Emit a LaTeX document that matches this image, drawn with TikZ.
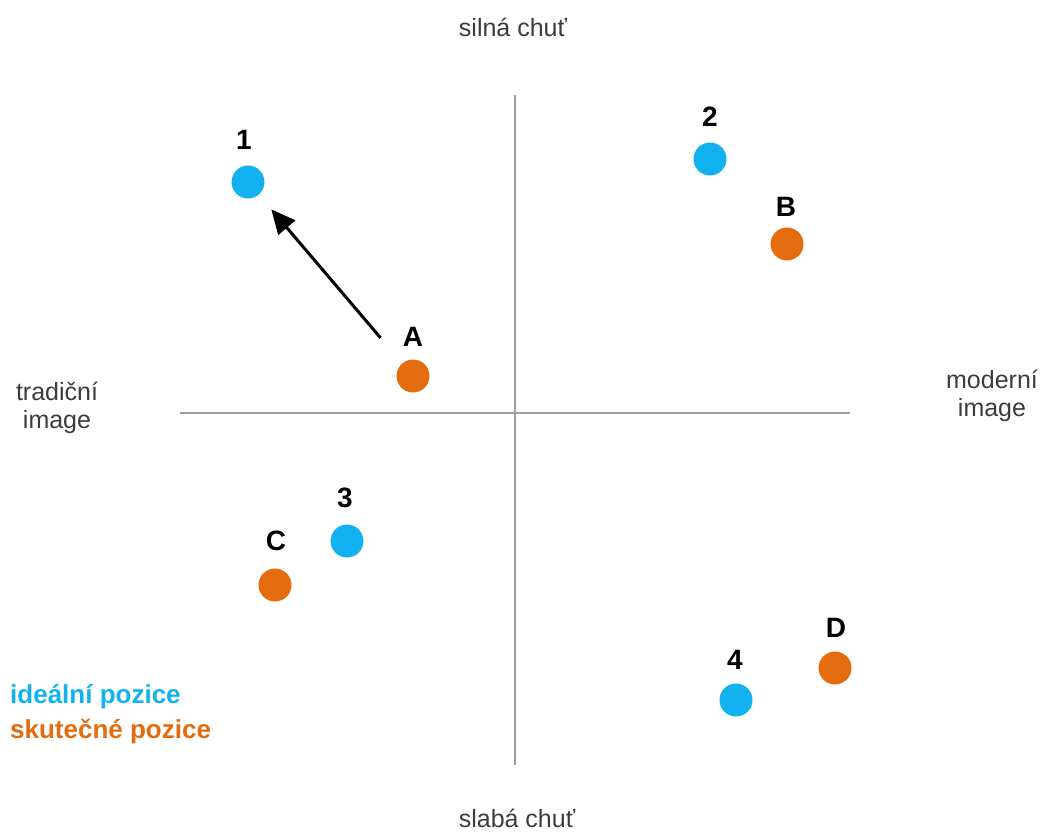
\documentclass[tikz,border=0pt]{standalone}
\usepackage{fontspec}
\setmainfont{Liberation Sans}
\usetikzlibrary{arrows.meta}
\definecolor{cblue}{RGB}{18,178,240}
\definecolor{corange}{RGB}{228,108,14}
\definecolor{axisgray}{RGB}{160,160,160}
\definecolor{txtgray}{RGB}{60,60,60}
\begin{document}
\begin{tikzpicture}[x=1pt,y=-1pt,
  axis/.style={draw=axisgray,line width=2pt},
  ideal/.style={circle,fill=cblue,minimum size=33pt,inner sep=0pt},
  real/.style={circle,fill=corange,minimum size=33pt,inner sep=0pt},
  lbl/.style={font=\fontsize{28}{30}\selectfont\bfseries,text=black,inner sep=0pt},
  axlbl/.style={font=\fontsize{25}{28}\selectfont,text=txtgray,align=center,inner sep=0pt},
  leg/.style={font=\fontsize{26}{27}\selectfont\bfseries,anchor=west,inner sep=0pt}]
\useasboundingbox (0,0) rectangle (1048,832);
\coordinate (vt) at (515,95);
\coordinate (vb) at (515,765);
\coordinate (hl) at (180,413);
\coordinate (hr) at (850,413);
\draw[axis] (vt) -- (vb);
\draw[axis] (hl) -- (hr);
\node[ideal] (p1) at (248,182) {};
\node[ideal] (p2) at (710,159) {};
\node[ideal] (p3) at (347,541) {};
\node[ideal] (p4) at (736,700) {};
\node[real] (pA) at (413,376) {};
\node[real] (pB) at (787,244) {};
\node[real] (pC) at (275,585) {};
\node[real] (pD) at (835,668) {};
\node[lbl] (l1) at (244,140) {1};
\node[lbl] (l2) at (710,117) {2};
\node[lbl] (l3) at (345,498) {3};
\node[lbl] (l4) at (735,660) {4};
\node[lbl] (lA) at (413,337) {A};
\node[lbl] (lB) at (786,207) {B};
\node[lbl] (lC) at (276,541) {C};
\node[lbl] (lD) at (836,628) {D};
\draw[line width=3pt,-{Triangle[length=24pt,width=22pt]},shorten <=50pt,shorten >=36pt] (pA.center) -- (p1.center);
\node[axlbl] (top) at (513,27) {silná chuť};
\node[axlbl] (bot) at (517,818) {slabá chuť};
\node[axlbl] (left) at (57,408) {tradiční\\image};
\node[axlbl] (right) at (992,396) {moderní\\image};
\node[leg,text=cblue] (leg1) at (10,697) {ideální pozice};
\node[leg,text=corange] (leg2) at (10,731) {skutečné pozice};
\end{tikzpicture}
\end{document}
